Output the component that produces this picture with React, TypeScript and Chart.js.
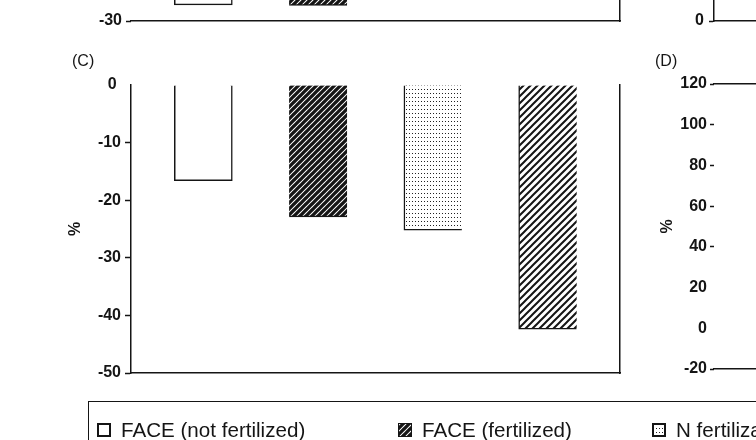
import React, { useEffect, useRef } from 'react';
import { Chart, registerables } from 'chart.js';

Chart.register(...registerables);

// ---------- data ----------
const categories = ['FACE (not fertilized)', 'FACE (fertilized)', 'N fertilization', 'FACE + N fertilization'];
const barPositions = [1, 2, 3, 4];
const panelCValues = [-16.6, -22.9, -25.2, -42.4];
const panelAValues: (number | null)[] = [-27.2, -27.3, null, null];
const panelCRange = [-50, 0];
const panelARange = [-30, 0];
const panelBRange = [0, 100];
const panelDRange = [-20, 120];
const tickStepC = 10;
const tickStepD = 20;

// ---------- styles ----------
const INK = '#151515';
const tickFont = { family: '"Liberation Sans", Arial', weight: 'bold' as const, size: 16 };

function hatch(period: number, lw: number, fg: string, bg: string) {
  const c = document.createElement('canvas');
  c.width = period;
  c.height = period;
  const g = c.getContext('2d')!;
  g.fillStyle = bg;
  g.fillRect(0, 0, period, period);
  g.strokeStyle = fg;
  g.lineWidth = lw;
  g.beginPath();
  for (const k of [0, 1, 2]) {
    g.moveTo(-period + k * period - 1, period + 1);
    g.lineTo(k * period + 1, -1);
  }
  g.stroke();
  return c;
}

function dots() {
  const c = document.createElement('canvas');
  c.width = 3;
  c.height = 4;
  const g = c.getContext('2d')!;
  g.fillStyle = '#fff';
  g.fillRect(0, 0, 3, 4);
  g.fillStyle = '#222';
  g.fillRect(1, 1, 1, 1);
  return c;
}

function makeFills(ctx: CanvasRenderingContext2D) {
  return [
    '#ffffff',
    ctx.createPattern(hatch(6, 3.3, INK, '#fff'), 'repeat')!,
    ctx.createPattern(dots(), 'repeat')!,
    ctx.createPattern(hatch(7, 2.0, INK, '#fff'), 'repeat')!,
  ];
}

const barBorders = [
  { top: 0, right: 1.5, bottom: 1.5, left: 1.5 },
  { top: 0, right: 0, bottom: 1.5, left: 0 },
  { top: 0, right: 0, bottom: 1.5, left: 1.5 },
  { top: 0, right: 0, bottom: 1.5, left: 1.5 },
];

const border = { display: true, color: INK, width: 1.5 };

function hiddenX(position: 'top' | 'bottom') {
  return {
    type: 'linear' as const,
    position,
    min: 0.37,
    max: 4.63,
    offset: false,
    ticks: { display: false },
    grid: { display: false, offset: false },
    border,
    afterFit: (s: any) => {
      s.height = 0;
    },
  };
}

function barDataset(values: (number | null)[], fills: any[]) {
  return {
    data: barPositions.map((x, i) => ({ x, y: values[i] })),
    backgroundColor: (c: any) => fills[c.dataIndex],
    borderColor: INK,
    borderWidth: (c: any) => barBorders[c.dataIndex],
    borderSkipped: false as const,
    barThickness: 58,
  };
}

const baseOpts = {
  animation: false as const,
  responsive: false,
  maintainAspectRatio: false,
  events: [] as any[],
  plugins: { legend: { display: false }, tooltip: { enabled: false }, title: { display: false } },
};

// ---------- chart configs ----------
function configC(ctx: CanvasRenderingContext2D): any {
  const fills = makeFills(ctx);
  return {
    type: 'bar',
    data: { labels: categories, datasets: [barDataset(panelCValues, fills)] },
    options: {
      ...baseOpts,
      layout: { padding: { left: 60, top: 85, right: 136, bottom: 67 } },
      scales: {
        x: hiddenX('bottom'),
        y: {
          min: panelCRange[0],
          max: panelCRange[1],
          ticks: {
            stepSize: tickStepC,
            font: tickFont,
            color: INK,
            padding: 4,
            callback: (v: number) => (v === 0 ? '0 ' : String(v)),
          },
          grid: {
            drawOnChartArea: false,
            tickLength: 6,
            tickWidth: 1.5,
            tickColor: (c: any) => (c.tick && c.tick.value === 0 ? 'rgba(0,0,0,0)' : INK),
          },
          border,
          title: { display: true, text: '%', font: tickFont, color: INK, padding: { top: 6, bottom: 0 } },
          afterFit: (s: any) => {
            s.width = 71;
          },
        },
        y2: {
          position: 'right',
          min: panelCRange[0],
          max: panelCRange[1],
          ticks: { display: false },
          grid: { drawOnChartArea: false, drawTicks: false },
          border,
          afterFit: (s: any) => {
            s.width = 0;
          },
        },
      },
    },
  };
}

function configA(ctx: CanvasRenderingContext2D): any {
  const fills = makeFills(ctx);
  return {
    type: 'bar',
    data: { labels: categories, datasets: [barDataset(panelAValues, fills)] },
    options: {
      ...baseOpts,
      layout: { padding: { left: 60, top: 48, right: 136, bottom: 29 } },
      scales: {
        x: hiddenX('bottom'),
        y: {
          min: panelARange[0],
          max: panelARange[1],
          ticks: { stepSize: tickStepC, font: tickFont, color: INK, padding: 4 },
          grid: { drawOnChartArea: false, tickLength: 5, tickWidth: 1.5, tickColor: INK },
          border: { display: false },
          afterFit: (s: any) => {
            s.width = 71;
          },
        },
        y2: {
          position: 'right',
          min: panelARange[0],
          max: panelARange[1],
          ticks: { display: false },
          grid: { drawOnChartArea: false, drawTicks: false },
          border,
          afterFit: (s: any) => {
            s.width = 0;
          },
        },
      },
    },
  };
}

function configB(): any {
  return {
    type: 'bar',
    data: { datasets: [] },
    options: {
      ...baseOpts,
      layout: { padding: { left: 40, top: 20, right: 0, bottom: 29 } },
      scales: {
        x: hiddenX('bottom'),
        y: {
          min: panelBRange[0],
          max: panelBRange[1],
          ticks: { stepSize: 20, font: tickFont, color: INK, padding: 5 },
          grid: { drawOnChartArea: false, tickLength: 5, tickWidth: 1.5, tickColor: INK },
          border,
          afterFit: (s: any) => {
            s.width = 74;
          },
        },
      },
    },
  };
}

function configD(): any {
  return {
    type: 'bar',
    data: { datasets: [] },
    options: {
      ...baseOpts,
      layout: { padding: { left: 50, top: 44, right: 0, bottom: 31 } },
      scales: {
        x: hiddenX('bottom'),
        xTop: hiddenX('top'),
        y: {
          min: panelDRange[0],
          max: panelDRange[1],
          ticks: { stepSize: tickStepD, font: tickFont, color: INK, padding: 3 },
          grid: {
            drawOnChartArea: false,
            tickLength: 4,
            tickWidth: 1.5,
            tickColor: (c: any) =>
              c.tick && (c.tick.value === 0 || c.tick.value === 20) ? 'rgba(0,0,0,0)' : INK,
          },
          border: { display: false },
          title: { display: true, text: '%', font: tickFont, color: INK, padding: { top: 8, bottom: 0 } },
          afterFit: (s: any) => {
            s.width = 64;
          },
        },
      },
    },
  };
}

// ---------- components ----------
function ChartBox(props: {
  left: number;
  top: number;
  width: number;
  height: number;
  make: (ctx: CanvasRenderingContext2D) => any;
}) {
  const ref = useRef<HTMLCanvasElement>(null);
  useEffect(() => {
    const cv = ref.current!;
    const chart = new Chart(cv, props.make(cv.getContext('2d')!));
    return () => chart.destroy();
  }, []);
  return (
    <canvas
      ref={ref}
      width={props.width}
      height={props.height}
      style={{ position: 'absolute', left: props.left, top: props.top, width: props.width, height: props.height }}
    />
  );
}

function Swatch(props: { kind: number; left: number; top: number }) {
  const ref = useRef<HTMLCanvasElement>(null);
  useEffect(() => {
    const cv = ref.current!;
    const g = cv.getContext('2d')!;
    const fills = makeFills(g);
    g.clearRect(0, 0, 14, 14);
    g.fillStyle = INK;
    g.fillRect(0, 0, 14, 14);
    g.fillStyle = fills[props.kind] as any;
    if (props.kind === 1) {
      g.fillRect(1, 1, 12, 12);
    } else {
      g.fillRect(2, 2, 10, 10);
    }
  }, []);
  return (
    <canvas
      ref={ref}
      width={14}
      height={14}
      style={{ position: 'absolute', left: props.left, top: props.top, width: 14, height: 14 }}
    />
  );
}

const legendX = [97, 398, 652, 960];

export default function App() {
  const labelStyle: React.CSSProperties = {
    position: 'absolute',
    fontFamily: '"Liberation Sans", Arial, sans-serif',
    fontSize: 16,
    lineHeight: '16px',
    color: INK,
    whiteSpace: 'nowrap',
  };
  return (
    <div
      style={{
        position: 'absolute',
        left: 0,
        top: 0,
        width: 756,
        height: 440,
        overflow: 'hidden',
        background: '#fff',
      }}
    >
      <ChartBox left={0} top={-200} width={756} height={250} make={configA} />
      <ChartBox left={600} top={-200} width={156} height={250} make={() => configB()} />
      <ChartBox left={0} top={0} width={756} height={440} make={configC} />
      <ChartBox left={600} top={40} width={156} height={360} make={() => configD()} />
      <div style={{ ...labelStyle, left: 72, top: 53 }}>(C)</div>
      <div style={{ ...labelStyle, left: 655, top: 53 }}>(D)</div>
      <div
        style={{
          position: 'absolute',
          left: 88,
          top: 401,
          width: 760,
          height: 80,
          borderTop: `1.5px solid ${INK}`,
          borderLeft: `1.5px solid ${INK}`,
          boxSizing: 'border-box',
        }}
      />
      {categories.map((c, i) => (
        <React.Fragment key={c}>
          <Swatch kind={i} left={legendX[i]} top={423} />
          <div
            style={{
              ...labelStyle,
              left: legendX[i] + 24,
              top: 420,
              fontSize: 20.6,
              lineHeight: '20px',
            }}
          >
            {c}
          </div>
        </React.Fragment>
      ))}
    </div>
  );
}
